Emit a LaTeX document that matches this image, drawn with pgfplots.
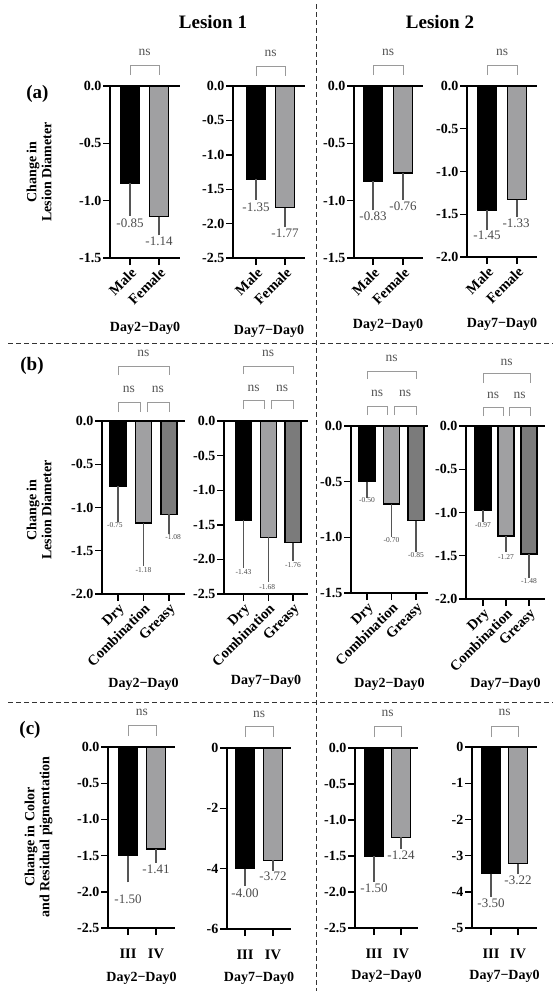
\documentclass[border=0pt]{standalone}
\usepackage{fontspec}
\setmainfont{Liberation Serif}
\usepackage{pgfplots}
\pgfplotsset{compat=1.18}
\definecolor{lg}{HTML}{A0A0A2}
\definecolor{dg}{HTML}{7B7B7B}
\definecolor{ebc}{HTML}{555555}
\definecolor{nsc}{HTML}{9A9A9A}
\definecolor{nst}{HTML}{555555}
\definecolor{vlc}{HTML}{4A4A4A}
\newcommand\tf{\bfseries\fontsize{14}{15}\selectfont}
\newcommand\cf{\bfseries\fontsize{14.5}{15}\selectfont}
\newcommand\vf{\fontsize{13}{14}\selectfont}
\newcommand\vfs{\fontsize{7.5}{8}\selectfont}
\newcommand\nsf{\fontsize{13.5}{14}\selectfont}
\newcommand\brk[4]{\draw[nsc, line width=0.9pt] (#1pt,-#4pt) -- (#1pt,-#3pt) -- (#2pt,-#3pt) -- (#2pt,-#4pt);}
\newcommand\ns[2]{\node[text=nst, font=\nsf, inner sep=0pt] at (#1pt,-#2pt) {ns};}
\pgfplotsset{
  panel/.style={
    scale only axis, anchor=north west, clip=false,
    axis x line*=bottom, axis y line*=left,
    axis line style={line width=1.4pt, black},
    tick align=outside, major tick length=7pt,
    major tick style={line width=1.4pt, black},
    ymax=0,
    /pgf/number format/assume math mode=true,
    yticklabel style={font=\tf, inner sep=1.5pt, /pgf/number format/fixed, /pgf/number format/fixed zerofill, /pgf/number format/precision=1},
    xticklabel style={font=\cf},
    execute at end axis={\draw[line width=1.4pt] (rel axis cs:0,1) -- (rel axis cs:1,1);},
  },
  rot/.style={xticklabel style={rotate=45, anchor=north east, inner sep=1pt}},
  intticks/.style={yticklabel style={/pgf/number format/precision=0, /pgf/number format/fixed zerofill=false}},
  bars/.style={ybar, bar shift=0pt, draw=black, line width=1.4pt,
    error bars/y dir=minus, error bars/y explicit, error bars/error mark=-,
    error bars/error bar style={ebc, line width=1.1pt},
    error bars/error mark options={ebc, mark size=5pt, line width=1.1pt}},
  vals/.style={draw=none, mark=none, nodes near coords, point meta=explicit symbolic,
    every node near coord/.append style={anchor=north, font=#1, text=vlc, inner sep=0pt}},
}
\begin{document}
\begin{tikzpicture}
\path[use as bounding box] (0,0) rectangle (559pt,-991pt);
% ---------------- row (a)
\begin{axis}[panel, rot, at={(110pt,-86pt)}, width=70pt, height=172pt,
  xmin=-0.690, xmax=1.724, ymin=-1.5, ytick={0,-0.5,-1,-1.5},
  xtick={0,1}, xticklabels={Male,Female}]
\addplot[bars, fill=black, bar width=19pt] coordinates {(0,-0.85) -= (0,0.24)};
\addplot[bars, fill=lg, bar width=19pt] coordinates {(1,-1.14) -= (0,0.12)};
\addplot[vals=\vf] coordinates {(0,-1.156)[-0.85] (1,-1.313)[-1.14]};
\end{axis}
\begin{axis}[panel, rot, at={(233pt,-86pt)}, width=72pt, height=172pt,
  xmin=-0.793, xmax=1.690, ymin=-2.5, ytick={0,-0.5,-1,-1.5,-2,-2.5},
  xtick={0,1}, xticklabels={Male,Female}]
\addplot[bars, fill=black, bar width=19pt] coordinates {(0,-1.35) -= (0,0.23)};
\addplot[bars, fill=lg, bar width=19pt] coordinates {(1,-1.77) -= (0,0.21)};
\addplot[vals=\vf] coordinates {(0,-1.695)[-1.35] (1,-2.073)[-1.77]};
\end{axis}
\begin{axis}[panel, rot, at={(354pt,-86pt)}, width=69pt, height=172pt,
  xmin=-0.633, xmax=1.667, ymin=-1.5, ytick={0,-0.5,-1,-1.5},
  xtick={0,1}, xticklabels={Male,Female}]
\addplot[bars, fill=black, bar width=19pt] coordinates {(0,-0.83) -= (0,0.21)};
\addplot[bars, fill=lg, bar width=19pt] coordinates {(1,-0.76) -= (0,0.19)};
\addplot[vals=\vf] coordinates {(0,-1.095)[-0.83] (1,-1.006)[-0.76]};
\end{axis}
\begin{axis}[panel, rot, at={(467pt,-86pt)}, width=70pt, height=171pt,
  xmin=-0.667, xmax=1.667, ymin=-2, ytick={0,-0.5,-1,-1.5,-2},
  xtick={0,1}, xticklabels={Male,Female}]
\addplot[bars, fill=black, bar width=19pt] coordinates {(0,-1.45) -= (0,0.18)};
\addplot[bars, fill=lg, bar width=19pt] coordinates {(1,-1.33) -= (0,0.14)};
\addplot[vals=\vf] coordinates {(0,-1.691)[-1.45] (0.97,-1.551)[-1.33]};
\end{axis}
% ---------------- row (b)
\begin{axis}[panel, rot, at={(102pt,-421pt)}, width=83pt, height=173pt,
  xmin=-0.627, xmax=2.627, ymin=-2, ytick={0,-0.5,-1,-1.5,-2},
  xtick={0,1,2}, xticklabels={Dry,Combination,Greasy}]
\addplot[bars, fill=black, bar width=16pt] coordinates {(0,-0.75) -= (0,0.36)};
\addplot[bars, fill=lg, bar width=16pt] coordinates {(1,-1.18) -= (0,0.44)};
\addplot[bars, fill=dg, bar width=16pt] coordinates {(2,-1.08) -= (0,0.17)};
\addplot[vals=\vfs] coordinates {(-0.12,-1.173)[-0.75] (1,-1.694)[-1.18] (2.16,-1.312)[-1.08]};
\end{axis}
\begin{axis}[panel, rot, at={(224pt,-421pt)}, width=84pt, height=173pt,
  xmin=-0.788, xmax=2.606, ymin=-2.5, ytick={0,-0.5,-1,-1.5,-2,-2.5},
  xtick={0,1,2}, xticklabels={Dry,Combination,Greasy}]
\addplot[bars, fill=black, bar width=16pt] coordinates {(0,-1.43) -= (0,0.62)};
\addplot[bars, fill=lg, bar width=16pt] coordinates {(1,-1.68) -= (0,0.57)};
\addplot[bars, fill=dg, bar width=16pt] coordinates {(2,-1.76) -= (0,0.19)};
\addplot[vals=\vfs] coordinates {(0,-2.146)[-1.43] (0.96,-2.363)[-1.68] (2,-2.045)[-1.76]};
\end{axis}
\begin{axis}[panel, rot, at={(351pt,-426pt)}, width=77pt, height=167pt,
  xmin=-0.653, xmax=2.49, ymin=-1.5, ytick={0,-0.5,-1,-1.5},
  xtick={0,1,2}, xticklabels={Dry,Combination,Greasy}]
\addplot[bars, fill=black, bar width=16pt] coordinates {(0,-0.50) -= (0,0.10)};
\addplot[bars, fill=lg, bar width=16pt] coordinates {(1,-0.70) -= (0,0.25)};
\addplot[bars, fill=dg, bar width=16pt] coordinates {(2,-0.85) -= (0,0.24)};
\addplot[vals=\vfs] coordinates {(0,-0.642)[-0.50] (1,-1.002)[-0.70] (2,-1.137)[-0.85]};
\end{axis}
\begin{axis}[panel, rot, at={(466pt,-426pt)}, width=79pt, height=173pt,
  xmin=-0.739, xmax=2.696, ymin=-2, ytick={0,-0.5,-1,-1.5,-2},
  xtick={0,1,2}, xticklabels={Dry,Combination,Greasy}]
\addplot[bars, fill=black, bar width=16pt] coordinates {(0,-0.97) -= (0,0.08)};
\addplot[bars, fill=lg, bar width=16pt] coordinates {(1,-1.27) -= (0,0.13)};
\addplot[bars, fill=dg, bar width=16pt] coordinates {(2,-1.48) -= (0,0.22)};
\addplot[vals=\vfs] coordinates {(0,-1.116)[-0.97] (1,-1.486)[-1.27] (2,-1.763)[-1.48]};
\end{axis}
% ---------------- row (c)
\begin{axis}[panel, at={(108pt,-747pt)}, width=67pt, height=181pt,
  xmin=-0.714, xmax=1.679, ymin=-2.5, ytick={0,-0.5,-1,-1.5,-2,-2.5},
  xtick={0,1}, xticklabels={III,IV}, xticklabel style={yshift=-10pt}]
\addplot[bars, fill=black, bar width=19pt] coordinates {(0,-1.50) -= (0,0.30)};
\addplot[bars, fill=lg, bar width=19pt] coordinates {(1,-1.41) -= (0,0.12)};
\addplot[vals=\vf] coordinates {(0,-2.039)[-1.50] (1,-1.624)[-1.41]};
\end{axis}
\begin{axis}[panel, intticks, at={(227pt,-748pt)}, width=64pt, height=181pt,
  xmin=-0.643, xmax=1.643, ymin=-6, ytick={0,-2,-4,-6},
  xtick={0,1}, xticklabels={III,IV}, xticklabel style={yshift=-10pt}]
\addplot[bars, fill=black, bar width=19pt] coordinates {(0,-4.00) -= (0,0.40)};
\addplot[bars, fill=lg, bar width=19pt] coordinates {(1,-3.72) -= (0,0.18)};
\addplot[vals=\vf] coordinates {(0,-4.660)[-4.00] (1,-4.097)[-3.72]};
\end{axis}
\begin{axis}[panel, at={(355pt,-748pt)}, width=63pt, height=180pt,
  xmin=-0.704, xmax=1.63, ymin=-2.5, ytick={0,-0.5,-1,-1.5,-2,-2.5},
  xtick={0,1}, xticklabels={III,IV}, xticklabel style={yshift=-10pt}]
\addplot[bars, fill=black, bar width=19pt] coordinates {(0,-1.50) -= (0,0.29)};
\addplot[bars, fill=lg, bar width=19pt] coordinates {(1,-1.24) -= (0,0.09)};
\addplot[vals=\vf] coordinates {(0,-1.883)[-1.50] (1,-1.425)[-1.24]};
\end{axis}
\begin{axis}[panel, intticks, at={(472pt,-747pt)}, width=65pt, height=181pt,
  xmin=-0.704, xmax=1.704, ymin=-5, ytick={0,-1,-2,-3,-4,-5},
  xtick={0,1}, xticklabels={III,IV}, xticklabel style={yshift=-10pt}]
\addplot[bars, fill=black, bar width=19pt] coordinates {(0,-3.50) -= (0,0.50)};
\addplot[bars, fill=lg, bar width=19pt] coordinates {(1,-3.22) -= (0,0.15)};
\addplot[vals=\vf] coordinates {(0,-4.188)[-3.50] (1,-3.552)[-3.22]};
\end{axis}
% ---------------- separators
\draw[black!80, line width=0.9pt, dash pattern=on 5pt off 3pt] (316pt,-4pt) -- (316pt,-991pt);
\draw[black!80, line width=0.9pt, dash pattern=on 5pt off 3pt] (8pt,-343pt) -- (553pt,-343pt);
\draw[black!80, line width=0.9pt, dash pattern=on 5pt off 3pt] (8pt,-702pt) -- (553pt,-702pt);
% ---------------- titles and labels
\node[font=\bfseries\fontsize{19}{20}\selectfont] at (213pt,-22pt) {Lesion 1};
\node[font=\bfseries\fontsize{19}{20}\selectfont] at (440pt,-22pt) {Lesion 2};
\node[font=\bfseries\fontsize{19}{20}\selectfont] at (37.5pt,-94pt) {(a)};
\node[font=\bfseries\fontsize{19}{20}\selectfont] at (32pt,-366pt) {(b)};
\node[font=\bfseries\fontsize{19}{20}\selectfont] at (30pt,-730pt) {(c)};
\node[rotate=90, align=center, font=\tf] at (39pt,-172pt) {Change in\\Lesion Diameter};
\node[rotate=90, align=center, font=\tf] at (39pt,-510pt) {Change in\\Lesion Diameter};
\node[rotate=90, align=center, font=\tf] at (38.5pt,-837pt) {Change in Color\\and Residual pigmentation};
% day labels
\node[font=\tf] at (145pt,-328pt) {Day2−Day0};
\node[font=\tf] at (269pt,-331pt) {Day7−Day0};
\node[font=\tf] at (388pt,-325pt) {Day2−Day0};
\node[font=\tf] at (502pt,-324pt) {Day7−Day0};
\node[font=\tf] at (143.5pt,-684pt) {Day2−Day0};
\node[font=\tf] at (266pt,-681pt) {Day7−Day0};
\node[font=\tf] at (389.5pt,-684pt) {Day2−Day0};
\node[font=\tf] at (505.5pt,-684pt) {Day7−Day0};
\node[font=\tf] at (141.5pt,-978pt) {Day2−Day0};
\node[font=\tf] at (259pt,-978pt) {Day7−Day0};
\node[font=\tf] at (386.5pt,-976pt) {Day2−Day0};
\node[font=\tf] at (504.5pt,-976pt) {Day7−Day0};
% brackets row a
\brk{130}{159}{65}{75} \ns{144.5}{52}
\brk{256}{285}{66}{76} \ns{270.5}{53}
\brk{373}{403}{65}{75} \ns{388}{52}
\brk{487}{517}{65}{75} \ns{502}{52}
% brackets row b
\brk{118}{140}{402}{412} \brk{147}{169}{402}{412} \ns{129}{389} \ns{158}{389}
\brk{118}{169}{366}{375} \ns{143.5}{353}
\brk{243}{264}{400}{409} \brk{271}{293}{400}{409} \ns{253.5}{388} \ns{282}{388}
\brk{243}{293}{366}{374} \ns{268}{353}
\brk{367}{387}{406}{415} \brk{394}{416}{406}{415} \ns{377}{393} \ns{405}{393}
\brk{367}{416}{371}{379} \ns{391.5}{358}
\brk{483}{503}{407}{416} \brk{509}{530}{407}{416} \ns{493}{395} \ns{519.5}{395}
\brk{483}{530}{373}{383} \ns{506.5}{362}
% brackets row c
\brk{128}{156}{725}{736} \ns{142}{712}
\brk{245}{273}{726}{737} \ns{259}{714}
\brk{374}{401}{726}{737} \ns{387.5}{713}
\brk{491}{518}{726}{737} \ns{504.5}{712}
\end{tikzpicture}
\end{document}
